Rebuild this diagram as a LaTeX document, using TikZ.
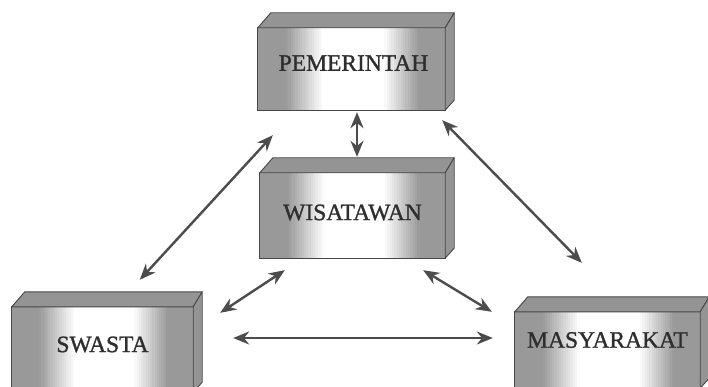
\documentclass[tikz,border=0pt]{standalone}
\usepackage{fontspec}
\setmainfont{Liberation Serif}
\newfontfamily\boxfont[FakeBold=1.2]{Liberation Serif}
\usetikzlibrary{arrows.meta,calc}

\colorlet{rimgrey}{black!42}
\colorlet{edge}{black!72}

\tikzset{
  front/.style={rectangle, inner sep=0pt},
  rim/.style={draw=edge, line width=0.9pt, fill=rimgrey, line join=round},
  lbl/.style={font=\boxfont\fontsize{23.5}{26}\selectfont, text=black!82, inner sep=0pt},
  link/.style={draw=black!70, line width=2.4pt,
    {Stealth[length=16pt,width=13pt]}-{Stealth[length=16pt,width=13pt]}}
}

% front face of block #1, built from thin vertical strips:
% grey at both ends, fading into a white band in the middle
\newcommand\facefill[1]{%
  \foreach \i in {0,...,79}{%
    \pgfmathsetmacro\ta{\i/80}%
    \pgfmathsetmacro\tb{min(1,(\i+1.4)/80)}%
    \pgfmathsetmacro\tm{(\i+0.5)/80}%
    \pgfmathsetmacro\g{40*min(1, max(0,(0.35-\tm)/0.2) + max(0,(\tm-0.67)/0.19))}%
    \fill[black!\g]
      ($(#1.north west)!\ta!(#1.north east)$) rectangle ($(#1.south west)!\tb!(#1.south east)$);
  }%
  \draw[edge, line width=0.9pt] (#1.north west) rectangle (#1.south east);
}

% top and right-hand faces of block #1
\newcommand\boxfaces[1]{%
  \path[rim] (#1.north west) -- ++(13,-15) -- ($(#1.north east)+(9,-15)$)
     -- (#1.north east) -- cycle;
  \path[rim] (#1.north east) -- ++(9,-15) -- ($(#1.south east)+(9,-10)$)
     -- (#1.south east) -- cycle;
}

\begin{document}
\begin{tikzpicture}[x=1pt,y=-1pt]
  \useasboundingbox (0,0) rectangle (708,387);
  \clip (0,0) rectangle (708,387);
  \fill[white] (0,0) rectangle (708,387);

  % blocks
  \node[front, minimum width=187pt, minimum height=82pt] (pem) at (351.5,69) {};
  \facefill{pem}\boxfaces{pem}
  \node[lbl] (pemtxt) at ($(pem.center)+(2,-6)$) {PEMERINTAH};

  \node[front, minimum width=185pt, minimum height=85pt] (wis) at (352.5,215.5) {};
  \facefill{wis}\boxfaces{wis}
  \node[lbl] (wistxt) at ($(wis.center)+(0,-3)$) {WISATAWAN};

  \node[front, minimum width=181pt, minimum height=85pt] (sw) at (102.5,349.5) {};
  \facefill{sw}\boxfaces{sw}
  \node[lbl] (swtxt) at ($(sw.center)+(0,-5)$) {SWASTA};

  \node[front, minimum width=185pt, minimum height=76pt] (mas) at (607.5,350) {};
  \facefill{mas}\boxfaces{mas}
  \node[lbl] (mastxt) at ($(mas.center)+(0,-10)$) {MASYARAKAT};

  % two-way links
  \draw[link] ($(pem.south)+(5.5,2)$) -- ($(wis.north)+(4.5,-16)$);
  \draw[link] ($(sw.north west)+(128,-27)$) -- ($(pem.south west)+(15,25)$);
  \draw[link] ($(pem.south east)+(-3,10)$) -- ($(mas.north west)+(67,-49)$);
  \draw[link] ($(sw.north east)+(27,6)$) -- ($(wis.south west)+(25,12)$);
  \draw[link] ($(wis.south east)+(-22,12)$) -- ($(mas.north west)+(-23,0)$);
  \draw[link] ($(sw.east)+(40,-11.5)$) -- ($(mas.west)+(-22,-12)$);
\end{tikzpicture}
\end{document}
